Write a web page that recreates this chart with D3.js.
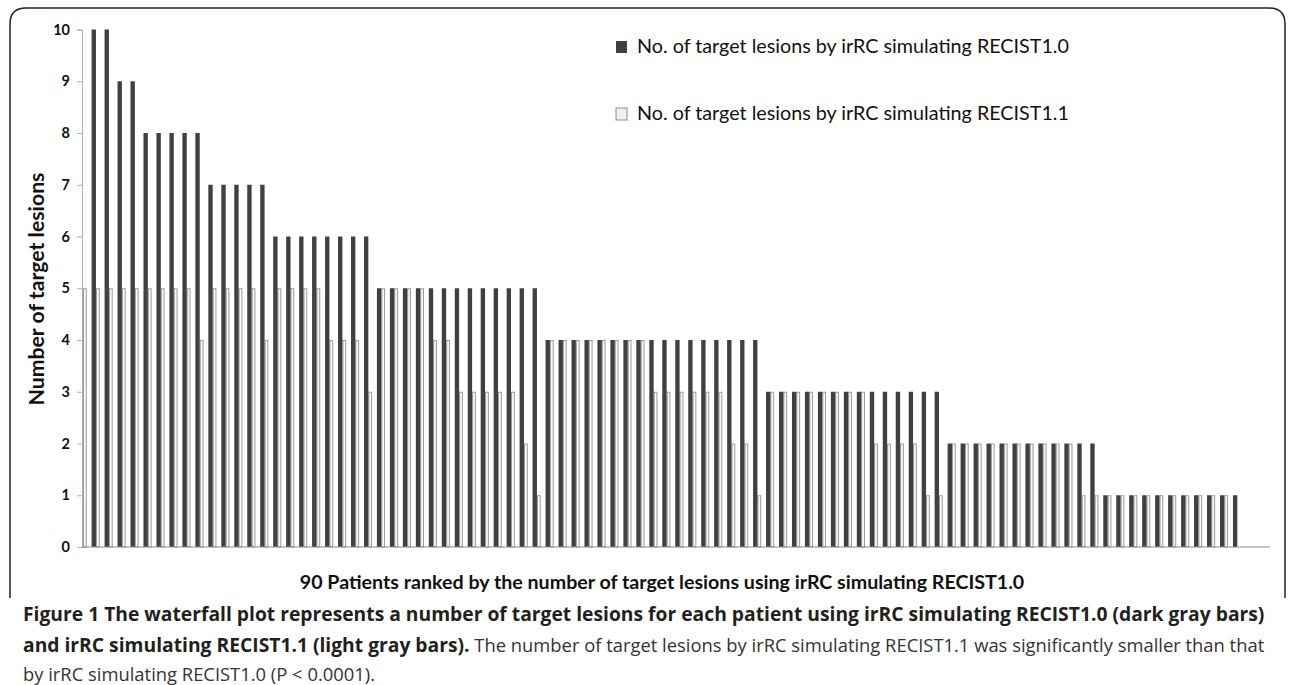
<!DOCTYPE html>
<html>
<head>
<meta charset="utf-8">
<script src="https://cdn.jsdelivr.net/npm/d3@7"></script>
<style>
  body { margin: 0; background: #fff; }
  svg { display: block; }
</style>
</head>
<body>
<svg id="chart" width="1292" height="685"></svg>
<script>
// Number of target lesions per patient (ranked)
var darkValues = [10, 10, 9, 9, 8, 8, 8, 8, 8, 7, 7, 7, 7, 7,
  6, 6, 6, 6, 6, 6, 6, 6,
  5, 5, 5, 5, 5, 5, 5, 5, 5, 5, 5, 5, 5,
  4, 4, 4, 4, 4, 4, 4, 4, 4, 4, 4, 4, 4, 4, 4, 4, 4,
  3, 3, 3, 3, 3, 3, 3, 3, 3, 3, 3, 3, 3, 3,
  2, 2, 2, 2, 2, 2, 2, 2, 2, 2, 2, 2,
  1, 1, 1, 1, 1, 1, 1, 1, 1, 1, 1];
var lightValues = [5, 5, 5, 5, 5, 5, 5, 5, 5, 4, 5, 5, 5, 5,
  4, 5, 5, 5, 5, 4, 4, 4,
  3, 5, 5, 5, 5, 4, 4, 3, 3, 3, 3, 3, 2,
  1, 4, 4, 4, 4, 4, 4, 4, 4, 3, 3, 3, 3, 3, 3, 2, 2,
  1, 3, 3, 3, 3, 3, 3, 3, 3, 2, 2, 2, 2, 1,
  1, 2, 2, 2, 2, 2, 2, 2, 2, 2, 2, 1,
  1, 1, 1, 1, 1, 1, 1, 1, 1, 1, 1];
var yTicks = [0, 1, 2, 3, 4, 5, 6, 7, 8, 9, 10];
var seriesNames = ['No. of target lesions by irRC simulating RECIST1.0',
  'No. of target lesions by irRC simulating RECIST1.1'];
var xTitle = '90 Patients ranked by the number of target lesions using irRC simulating RECIST1.0';
var yTitle = 'Number of target lesions';

var chartFont = 'Lato, "Open Sans", sans-serif';
var capFont = '"Open Sans", "Noto Sans", sans-serif';
var darkFill = '#404040', lightFill = '#fafafa', lightStroke = '#9a9a9a';

var svg = d3.select('#chart');

// fit a text element to a given width by scaling its font size
function fitWidth(sel, width) {
  var node = sel.node();
  var size = parseFloat(sel.attr('font-size'));
  var w = node.getComputedTextLength();
  sel.attr('font-size', (size * width / w).toFixed(2));
}

// Frame round the figure
var fr = {l: 10, t: 8, r: 1285, b: 598, rad: 16};
svg.append('path')
  .attr('d', 'M' + fr.l + ',' + fr.b + 'V' + (fr.t + fr.rad) +
    'Q' + fr.l + ',' + fr.t + ' ' + (fr.l + fr.rad) + ',' + fr.t +
    'H' + (fr.r - fr.rad) +
    'Q' + fr.r + ',' + fr.t + ' ' + fr.r + ',' + (fr.t + fr.rad) +
    'V' + fr.b)
  .attr('fill', 'none')
  .attr('stroke', '#222')
  .attr('stroke-width', 1.5);

// Scales
var x = d3.scaleBand()
  .domain(d3.range(darkValues.length))
  .range([83, 83 + darkValues.length * 12.97])
  .paddingInner(0).paddingOuter(0);
var y = d3.scaleLinear().domain([0, 10]).range([547, 29.5]);
var bw = x.bandwidth();

// Bars
var g = svg.append('g');
g.selectAll('rect.light').data(lightValues).join('rect')
  .attr('class', 'light')
  .attr('x', (d, i) => x(i) + 0.5)
  .attr('y', d => y(d) + 0.5)
  .attr('width', bw * 0.29 - 1)
  .attr('height', d => y(0) - y(d) - 0.5)
  .attr('fill', lightFill)
  .attr('stroke', lightStroke)
  .attr('stroke-width', 1);

g.selectAll('rect.dark').data(darkValues).join('rect')
  .attr('class', 'dark')
  .attr('x', (d, i) => x(i) + bw * 0.663)
  .attr('y', d => y(d))
  .attr('width', bw * 0.337)
  .attr('height', d => y(0) - y(d))
  .attr('fill', darkFill);

// Y axis
var yAxis = d3.axisLeft(y).tickValues(yTicks).tickSize(5).tickPadding(7);
var ya = svg.append('g').attr('transform', 'translate(82,0)').call(yAxis);
ya.select('.domain').attr('stroke', '#b0b0b0');
ya.selectAll('.tick line').attr('stroke', '#b0b0b0');
ya.selectAll('.tick text')
  .attr('font-family', chartFont)
  .attr('font-weight', 'bold')
  .attr('font-size', 14.5)
  .attr('fill', '#111');

// X axis line
svg.append('line')
  .attr('x1', 82).attr('x2', 1270)
  .attr('y1', y(0)).attr('y2', y(0))
  .attr('stroke', '#8c8c8c').attr('stroke-width', 1.2);

// Axis titles
var yt = svg.append('text')
  .attr('transform', 'translate(44,' + 289 + ') rotate(-90)')
  .attr('text-anchor', 'middle')
  .attr('font-family', chartFont)
  .attr('font-weight', 'bold')
  .attr('font-size', 18)
  .attr('fill', '#111')
  .text(yTitle);
fitWidth(yt, 233);

var xt = svg.append('text')
  .attr('x', 662).attr('y', 589)
  .attr('text-anchor', 'middle')
  .attr('font-family', chartFont)
  .attr('font-weight', 'bold')
  .attr('font-size', 17)
  .attr('fill', '#111')
  .text(xTitle);
fitWidth(xt, 725);

// Legend
var legend = svg.append('g');
var legRows = [{name: seriesNames[0], fill: darkFill, stroke: 'none', y: 47},
  {name: seriesNames[1], fill: '#f0f0f0', stroke: '#8a8a8a', y: 114}];
legRows.forEach(function(r) {
  legend.append('rect')
    .attr('x', 616).attr('y', r.y - 6)
    .attr('width', 11).attr('height', 12)
    .attr('fill', r.fill).attr('stroke', r.stroke);
  var t = legend.append('text')
    .attr('x', 637).attr('y', r.y + 6)
    .attr('font-family', chartFont)
    .attr('font-size', 18)
    .attr('fill', '#111')
    .text(r.name);
  fitWidth(t, 432);
});

// Caption
var capLines = [
  [{t: 'Figure 1 The waterfall plot represents a number of target lesions for each patient using irRC simulating RECIST1.0 (dark gray bars)', b: true}],
  [{t: 'and irRC simulating RECIST1.1 (light gray bars).', b: true},
   {t: ' The number of target lesions by irRC simulating RECIST1.1 was significantly smaller than that', b: false}],
  [{t: 'by irRC simulating RECIST1.0 (P < 0.0001).', b: false}]
];
var capY = [621, 652, 681];
var capLeft = 23, capRight = 1265;
var boldSize = 18, normSize = 18;
capLines.forEach(function(line, i) {
  var t = svg.append('text')
    .attr('x', capLeft).attr('y', capY[i])
    .attr('font-family', capFont)
    .attr('font-size', 18)
    .attr('fill', '#231f20');
  var spans = line.map(function(p) {
    return t.append('tspan')
      .attr('font-weight', p.b ? 'bold' : 'normal')
      .attr('fill', p.b ? '#231f20' : '#333')
      .text(p.t);
  });
  if (i === 0) {
    fitWidth(t, capRight - capLeft);
    boldSize = parseFloat(t.attr('font-size'));
  } else if (i === 1) {
    // bold part at the bold size, the rest fills the line
    spans[0].attr('font-size', boldSize);
    var bw0 = spans[0].node().getComputedTextLength();
    spans[1].attr('font-size', 18);
    var bw1 = spans[1].node().getComputedTextLength();
    normSize = 18 * (capRight - capLeft - bw0) / bw1;
    spans[1].attr('font-size', normSize.toFixed(2));
  } else {
    t.attr('font-size', normSize.toFixed(2));
  }
});
</script>
</body>
</html>
